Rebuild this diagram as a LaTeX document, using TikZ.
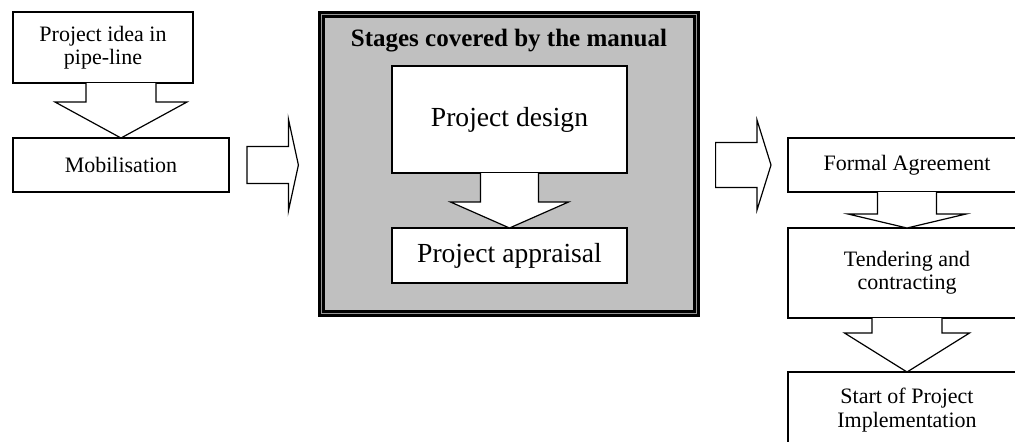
\documentclass[tikz,border=0pt]{standalone}
\usepackage{fontspec}
\setmainfont{Liberation Serif}
\usepackage{tikz}
\usetikzlibrary{calc}

\definecolor{framegray}{RGB}{192,192,192}
\definecolor{gapgray}{RGB}{150,150,150}

\newcommand{\downblock}[5]{%
  \draw[blockarrow] ($(#1 -| #2)+(-#3,0)$) -- ($(#2)+(-#3,-#5)$) -- ($(#2)+(-#4,-#5)$) -- (#2)
    -- ($(#2)+(#4,-#5)$) -- ($(#2)+(#3,-#5)$) -- ($(#1 -| #2)+(#3,0)$);}
\newcommand{\rightblock}[5]{%
  \draw[blockarrow] ($(#1)+(0,-#3)$) -- ($(#2)+(-#5,-#3)$) -- ($(#2)+(-#5,-#4)$) -- (#2)
    -- ($(#2)+(-#5,#4)$) -- ($(#2)+(-#5,#3)$) -- ($(#1)+(0,#3)$) -- cycle;}

\begin{document}
\begin{tikzpicture}[
        x=0.5pt, y=-0.5pt,
        box/.style={rectangle, draw, fill=white, line width=0.65pt, align=center, inner sep=0pt, outer sep=0pt, font=\fontsize{11}{11.6}\selectfont},
        bigbox/.style={box, font=\fontsize{13.8}{15}\selectfont},
        stageframe/.style={rectangle, draw, fill=framegray, line width=1.2pt, double=gapgray, double distance=0.85pt, inner sep=0pt, outer sep=0pt},
        blockarrow/.style={draw, fill=white, line width=0.6pt, line join=miter}
    ]
        \path[use as bounding box, clip] (0,0) rectangle (1015,441);

        \node (idea) [box, minimum width=90pt, minimum height=35.5pt] at (103,47.5) {Project idea in\\pipe-line};
        \node (mob) [box, minimum width=108pt, minimum height=27pt] at (121,165) {Mobilisation};

        \node (frame) [stageframe, minimum width=187.6pt, minimum height=149.6pt] at (509,164) {};
        \node (title) [font=\fontsize{12.5}{14}\selectfont\bfseries] at (509,41) {Stages covered by the manual};
        \node (design) [bigbox, minimum width=117.5pt, minimum height=53.5pt] at (509.5,119.5) {Project design};
        \node (appr) [bigbox, minimum width=117.5pt, minimum height=27.5pt] at (509.5,255.5) {Project appraisal};

        \node (formal) [box, minimum width=119pt, minimum height=27pt] at (907,165) {Formal Agreement};
        \node (tend) [box, minimum width=119pt, minimum height=45pt] at (907,273) {Tendering and\\contracting};
        \node (start) [box, minimum width=119pt, minimum height=38pt] at (907,410) {Start of Project\\Implementation};

        \coordinate (r1tail) at ($(mob.east)+(18,0)$);
        \coordinate (r1tip) at ($(frame.west |- mob.east)+(-23,0)$);
        \coordinate (r2tail) at ($(frame.east |- formal.west)+(19,0)$);
        \coordinate (r2tip) at ($(formal.west)+(-17,0)$);

        \downblock{idea.south}{mob.north}{35}{66}{36}
        \downblock{design.south}{appr.north}{29}{59}{26}
        \downblock{formal.south}{tend.north}{29.5}{59}{14}
        \downblock{tend.south}{start.north}{35}{62.5}{39}
        \rightblock{r1tail}{r1tip}{18.5}{46}{10}
        \rightblock{r2tail}{r2tip}{22.5}{45}{14}
    \end{tikzpicture}
\end{document}
